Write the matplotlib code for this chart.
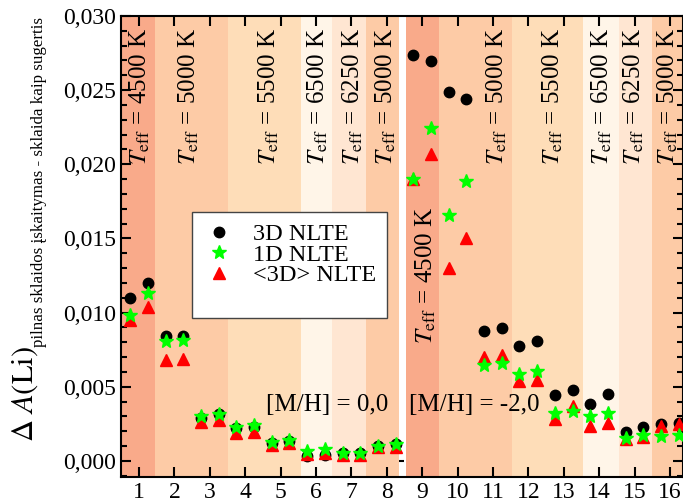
import numpy as np
import matplotlib
matplotlib.use("Agg")
import matplotlib.pyplot as plt
from matplotlib.lines import Line2D
from matplotlib.ticker import MultipleLocator, FuncFormatter

plt.rcParams['font.family'] = ['Liberation Serif', 'DejaVu Serif']
plt.rcParams['mathtext.fontset'] = 'stix'

# model numbers 1..16, two lines per model (left/right of the tick)
models = np.arange(1, 17)
xpos = np.repeat(models, 2) + np.tile([-0.25, 0.25], len(models))

nlte_3d = [0.0110, 0.0120, 0.00845, 0.00845, 0.00288, 0.00315, 0.00221, 0.00232,
           0.00124, 0.00135, 0.00034, 0.00038, 0.00052, 0.00056, 0.00101, 0.00113,
           0.02736, 0.02698, 0.02489, 0.02439, 0.00874, 0.00896, 0.00772, 0.00811,
           0.00446, 0.00480, 0.00383, 0.00453, 0.00198, 0.00232, 0.00250, 0.00259]
nlte_1d = [0.00982, 0.01133, 0.00806, 0.00813, 0.00300, 0.00318, 0.00232, 0.00243,
           0.00130, 0.00142, 0.00070, 0.00079, 0.00056, 0.00056, 0.00101, 0.00113,
           0.01899, 0.02248, 0.01655, 0.01887, 0.00649, 0.00660, 0.00588, 0.00608,
           0.00322, 0.00338, 0.00306, 0.00322, 0.00153, 0.00176, 0.00169, 0.00176]
nlte_avg3d = [0.00953, 0.01038, 0.00682, 0.00689, 0.00266, 0.00277, 0.00191, 0.00198,
              0.00108, 0.00120, 0.00047, 0.00052, 0.00040, 0.00040, 0.00092, 0.00097,
              0.01900, 0.02072, 0.01302, 0.01500, 0.00700, 0.00716, 0.00536, 0.00547,
              0.00282, 0.00372, 0.00239, 0.00255, 0.00147, 0.00164, 0.00239, 0.00250]

# background bands (Teff groups)
band_edges = [0.45, 1.45, 3.51, 5.58, 6.44, 7.40, 8.34, 8.54, 9.47, 11.54, 13.55, 14.56, 15.50, 16.5]
band_colors = ['#F9AA8A', '#FDCBA6', '#FEDDB8', '#FFF5E8', '#FFE6D2', '#FDCBA6', 'white',
               '#F9AA8A', '#FDCBA6', '#FEDDB8', '#FFF5E8', '#FFE6D2', '#FDCBA6']

teff_labels = ['4500', '5000', '5500', '6500', '6250', '5000',
               '4500', '5000', '5500', '6500', '6250', '5000']
teff_x = [1.03, 2.41, 4.67, 6.04, 7.05, 7.98, 9.1, 11.11, 12.7, 14.08, 14.98, 15.93]
teff_top = [0.0292] * 6 + [0.0171] + [0.0292] * 5

fig = plt.figure(figsize=(6.83, 5.04), dpi=100)
ax = fig.add_axes([121 / 683, 27 / 504, 562 / 683, 461 / 504])

for i, c in enumerate(band_colors):
    ax.axvspan(band_edges[i], band_edges[i + 1], color=c, lw=0, zorder=0)

# little tick left at zero in the gap
ax.hlines(0, band_edges[6], band_edges[7] - 0.04, color='black', lw=1.5, zorder=1)

h3d, = ax.plot(xpos, nlte_3d, 'o', color='black', ms=7.5, ls='none', zorder=3, label='3D NLTE')
havg, = ax.plot(xpos, nlte_avg3d, '^', color='#FF0000', ms=9, ls='none', zorder=4, label='<3D> NLTE')
h1d, = ax.plot(xpos, nlte_1d, '*', color='#00FF00', ms=10, ls='none', zorder=5, label='1D NLTE')
blank = Line2D([], [], ls='none', label=' ')

for x, t, lab in zip(teff_x, teff_top, teff_labels):
    ax.text(x, t, r'$T_{\rm eff}$ = ' + lab + ' K', rotation=90, ha='center', va='top',
            fontsize=18, zorder=2)

ax.text(6.31, 0.00378, '[M/H] = 0,0', ha='center', va='center', fontsize=18, zorder=2)
ax.text(10.46, 0.00378, '[M/H] = -2,0', ha='center', va='center', fontsize=18, zorder=2)

leg = ax.legend(handles=[h3d, h1d, havg, blank], loc='lower left', bbox_to_anchor=(0.126, 0.345),
                borderaxespad=0, fontsize=17.5, frameon=True, fancybox=False, framealpha=1,
                edgecolor='#444444', handlelength=1.3, handletextpad=0.75,
                labelspacing=-0.06, borderpad=0.45)
leg.get_frame().set_linewidth(1.0)
leg.set_zorder(6)

ax.set_xlim(0.49, 16.37)
ax.set_ylim(-0.00108, 0.0300)
ax.set_xticks(models)
ax.yaxis.set_major_locator(MultipleLocator(0.005))
ax.yaxis.set_minor_locator(MultipleLocator(0.001))
ax.yaxis.set_major_formatter(FuncFormatter(lambda v, p: f'{v:.3f}'.replace('.', ',')))
ax.tick_params(which='both', direction='in', top=True, right=True, width=1.5, labelsize=17)
ax.tick_params(which='major', length=7)
ax.tick_params(which='minor', length=4)
for s in ax.spines.values():
    s.set_linewidth(1.5)

fig.text(25 / 683, (504 - 442) / 504, r'$\Delta\ A(\mathrm{Li})$', rotation=90,
         ha='center', va='bottom', fontsize=22)
fig.text(39 / 683, (504 - 347) / 504, 'pilnas sklaidos įskaitymas - sklaida kaip sugertis',
         rotation=90, ha='center', va='bottom', fontsize=12.2)

fig.savefig('out.png', dpi=100)
